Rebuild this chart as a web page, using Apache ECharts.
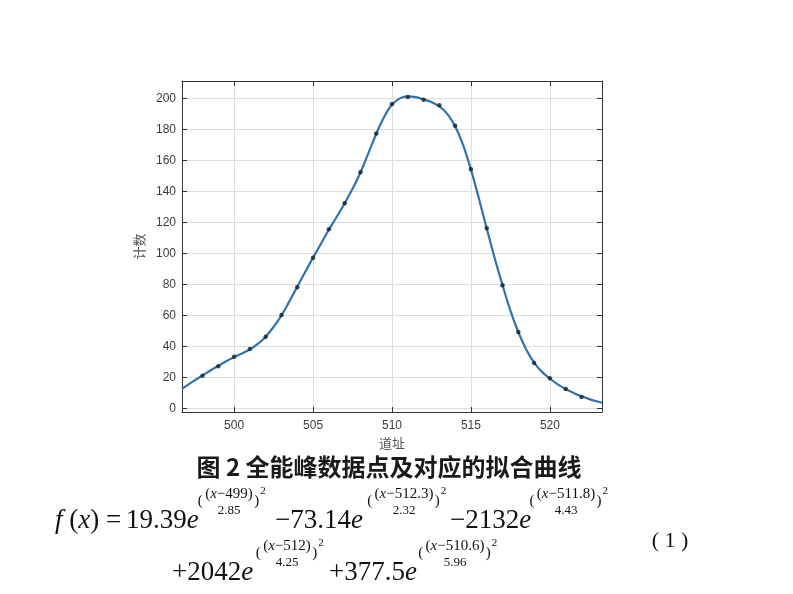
<!DOCTYPE html>
<html><head><meta charset="utf-8">
<script src="https://cdn.jsdelivr.net/npm/echarts/dist/echarts.min.js"></script>
<style>html,body{margin:0;padding:0;background:#fff}#c{width:793px;height:594px}</style>
</head><body><div id="c"></div>
<script>
// measured data points (channel, counts)
const pointX = [498,499,500,501,502,503,504,505,506,507,508,509,510,511,512,513,514,515,516,517,518,519,520,521,522];
const pointY = [21.0,27.1,33.3,38.3,46.2,60.2,78.1,97.2,115.5,132.3,152.3,177.4,196.3,200.8,199.1,195.5,182.3,154.2,116.1,79.4,49.2,29.2,19.4,12.5,7.3];
// fitted curve
const curveX = [496.7,497,497.5,498,498.5,499,499.5,500,500.5,501,501.5,502,502.5,503,503.5,504,504.5,505,505.5,506,506.5,507,507.5,508,508.5,509,509.5,510,510.5,511,511.5,512,512.5,513,513.5,514,514.5,515,515.5,516,516.5,517,517.5,518,518.5,519,519.5,520,520.5,521,521.5,522,522.5,523,523.3];
const curveY = [12.5,14.6,18.0,21.2,24.4,27.4,30.4,33.0,35.4,38.0,41.5,46.2,52.5,60.0,69.0,78.4,88.0,97.2,106.2,115.2,123.6,132.2,141.6,152.2,164.5,177.0,188.0,196.0,200.0,201.3,200.8,199.3,197.6,194.8,190.0,182.0,170.0,154.0,135.5,116.0,97.0,79.5,63.0,49.2,38.0,29.5,23.5,19.2,15.4,12.4,9.9,7.7,5.9,4.4,3.6];
const xTicks = [500,505,510,515,520];
const yTicks = [0,20,40,60,80,100,120,140,160,180,200];
const xName = '道址';
const yName = '计数';
const titleText = '图 2 全能峰数据点及对应的拟合曲线';
const mainTerms = [
  ['{i|f} ({i|x}) =', 55, 521],
  ['19.39{i|e}', 126, 521],
  ['−73.14{i|e}', 275, 521],
  ['−2132{i|e}', 450, 521],
  ['+2042{i|e}', 172, 573],
  ['+377.5{i|e}', 329, 573]
];
const expTerms = [
  ['({i|x}−499)', '2.85', 229, 494],
  ['({i|x}−512.3)', '2.32', 404, 494],
  ['({i|x}−511.8)', '4.43', 566, 494],
  ['({i|x}−512)', '4.25', 287, 546],
  ['({i|x}−510.6)', '5.96', 455, 546]
];
const eqNumber = '( 1 )';

const SERIF = '"Liberation Serif", "DejaVu Serif", serif';
const cv = document.createElement('canvas').getContext('2d');
function measure(s, size){ cv.font = size + 'px "Liberation Serif"'; return cv.measureText(s.replace(/\{i\|([^}]*)\}/g,'$1')).width; }
function txt(text, x, y, size, align){
  return {type:'text', x:x, y:y, silent:true, style:{
    text:text, fontFamily:SERIF, fontSize:size, fill:'#111', align:align||'left', verticalAlign:'middle',
    rich:{i:{fontStyle:'italic', fontFamily:SERIF, fontSize:size, fill:'#111'}}
  }};
}
const graphics = [];
graphics.push({type:'text', x:389, y:467, silent:true, style:{text:titleText, fontFamily:'"Noto Sans CJK SC", sans-serif', fontWeight:'bold', fontSize:24, fill:'#1a1a1a', align:'center', verticalAlign:'middle'}});
mainTerms.forEach(m => graphics.push(txt(m[0], m[1], m[2], 27, 'left')));
expTerms.forEach(e => {
  const fs = 15;
  const hw = measure(e[0], fs)/2;
  graphics.push(txt(e[0], e[2], e[3], fs, 'center'));
  graphics.push(txt(e[1], e[2], e[3]+17, 13, 'center'));
  graphics.push(txt('(', e[2]-hw-2, e[3]+7, 15, 'right'));
  graphics.push(txt(')', e[2]+hw+1, e[3]+7, 15, 'left'));
  graphics.push(txt('2', e[2]+hw+7, e[3]-3, 11, 'left'));
});
graphics.push(txt(eqNumber, 670, 541, 22, 'center'));

const axisCol = '#333';
const labelStyle = {color:'#3c3c3c', fontSize:12, fontFamily:'"Liberation Sans", Arial, sans-serif'};
const chart = echarts.init(document.getElementById('c'), null, {renderer:'canvas'});
chart.setOption({
  backgroundColor:'#fff',
  animation:false,
  grid:{left:182, right:191, top:81, bottom:182, containLabel:false, outerBoundsMode:'none', show:false},
  xAxis:[{
    type:'value', min:496.7, max:523.3, position:'bottom',
    name:xName, nameLocation:'middle', nameGap:22,
    nameTextStyle:{color:'#555', fontSize:13, fontFamily:'"Noto Sans CJK SC", sans-serif'},
    axisLine:{show:true, onZero:false, lineStyle:{color:axisCol, width:1}},
    axisTick:{show:true, inside:true, length:5, customValues:xTicks, lineStyle:{color:axisCol}},
    axisLabel:Object.assign({customValues:xTicks, margin:8}, labelStyle),
    splitLine:{show:true, lineStyle:{color:'#dedede', width:1}}
  },{
    type:'value', min:496.7, max:523.3, position:'top',
    axisLine:{show:true, onZero:false, lineStyle:{color:axisCol, width:1}},
    axisTick:{show:true, inside:true, length:5, customValues:xTicks, lineStyle:{color:axisCol}},
    axisLabel:{show:false}, splitLine:{show:false}
  }],
  yAxis:[{
    type:'value', min:-2.4, max:211.2, position:'left',
    name:yName, nameLocation:'middle', nameGap:34, nameRotate:90,
    nameTextStyle:{color:'#555', fontSize:13, fontFamily:'"Noto Sans CJK SC", sans-serif'},
    axisLine:{show:true, onZero:false, lineStyle:{color:axisCol, width:1}},
    axisTick:{show:true, inside:true, length:5, customValues:yTicks, lineStyle:{color:axisCol}},
    axisLabel:Object.assign({customValues:yTicks, margin:6}, labelStyle),
    splitLine:{show:true, lineStyle:{color:'#dedede', width:1}}
  },{
    type:'value', min:-2.4, max:211.2, position:'right',
    axisLine:{show:true, onZero:false, lineStyle:{color:axisCol, width:1}},
    axisTick:{show:true, inside:true, length:5, customValues:yTicks, lineStyle:{color:axisCol}},
    axisLabel:{show:false}, splitLine:{show:false}
  }],
  series:[{
    type:'line', xAxisIndex:0, yAxisIndex:0, smooth:0.4, showSymbol:false,
    data: curveX.map((x,i)=>[x, curveY[i]]),
    lineStyle:{color:'#2f74ae', width:2.2},
    itemStyle:{color:'#2f74ae'}, z:2
  },{
    type:'scatter', xAxisIndex:0, yAxisIndex:0, symbolSize:4.5,
    data: pointX.map((x,i)=>[x, pointY[i]]),
    itemStyle:{color:'#17222e'}, z:3
  }],
  graphic:graphics
});
</script>
</body></html>
